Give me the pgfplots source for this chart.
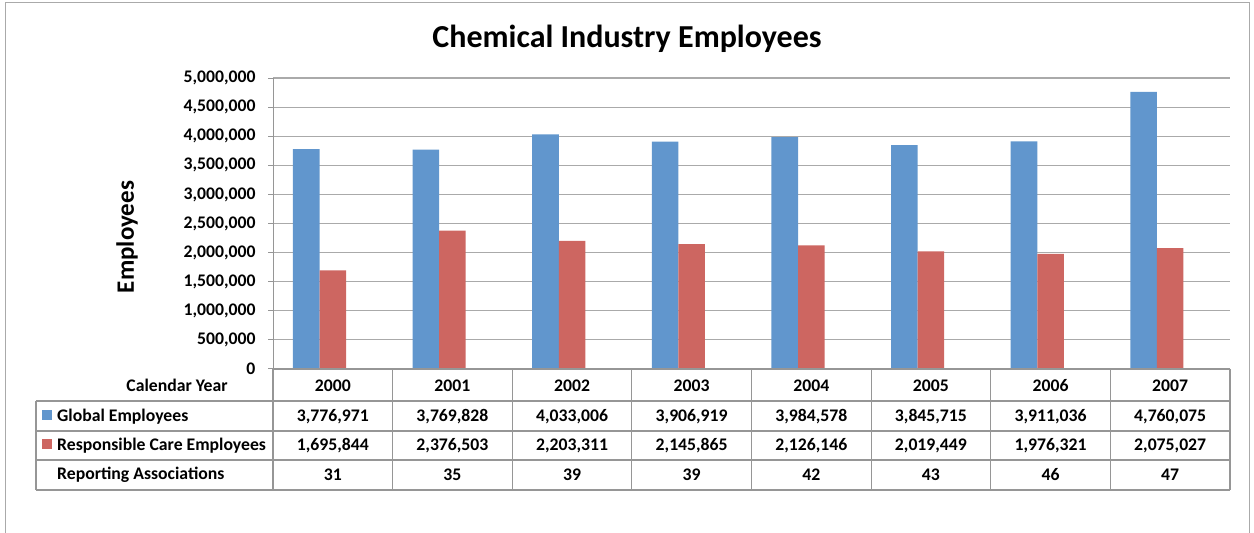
\documentclass[border=0pt]{standalone}
\usepackage{pgfplots}
\pgfplotsset{compat=1.18}
\usepackage{pgfplotstable}
\usepackage{fontspec}
\setmainfont{Carlito}
\definecolor{gblue}{RGB}{97,150,205}
\definecolor{rcred}{RGB}{205,102,97}
\definecolor{lgray}{RGB}{170,170,170}
\definecolor{tgray}{RGB}{150,150,150}
\pgfplotstableread{
x year global rc assoc
0 2000 3776971 1695844 31
1 2001 3769828 2376503 35
2 2002 4033006 2203311 39
3 2003 3906919 2145865 39
4 2004 3984578 2126146 42
5 2005 3845715 2019449 43
6 2006 3911036 1976321 46
7 2007 4760075 2075027 47
}\datatable
\newcommand{\tf}{\bfseries\fontsize{17.7}{17.7}\selectfont}
\begin{document}
\begin{tikzpicture}[x=1pt,y=1pt]
\useasboundingbox (0,0) rectangle (1254,533);
\draw[lgray, line width=1pt] (5,0) -- (5,530) -- (1249,530) -- (1249,0);
\node[font=\bfseries\fontsize{32}{32}\selectfont] at (627,494) {Chemical Industry Employees};
\node[font=\bfseries\fontsize{25}{25}\selectfont, rotate=90] at (127,296) {Employees};
\begin{axis}[
  at={(273pt,164pt)}, anchor=south west,
  scale only axis, width=957pt, height=291pt,
  xmin=-0.5, xmax=7.5, ymin=0, ymax=5000000,
  bar width=0.222,
  axis y line*=left, axis x line=none,
  axis line style={tgray, line width=1pt},
  xtick=\empty,
  ytick={0,500000,1000000,1500000,2000000,2500000,3000000,3500000,4000000,4500000,5000000},
  scaled y ticks=false,
  tick align=outside, major tick length=5pt,
  ytick style={tgray, line width=1pt},
  ymajorgrids, grid style={lgray, line width=1.2pt},
  yticklabel style={font=\tf, xshift=-9pt, /pgf/number format/fixed, /pgf/number format/1000 sep={,}, /pgf/number format/assume math mode=true},
  clip=false,
]
\addplot[ybar, bar shift=-0.222, fill=gblue, draw=none] table[x=x, y=global] {\datatable};
\addplot[ybar, bar shift=0, fill=rcred, draw=none] table[x=x, y=rc] {\datatable};
\end{axis}
% data table
\begin{scope}[tgray, line width=1.2pt]
\draw (273,164) -- (1230,164);
\foreach \k in {132,102,73,43} \draw (36,\k) -- (1230,\k);
\draw (36,132) -- (36,43);
\foreach \k in {0,...,8} \draw ({273+119.625*\k},164) -- ({273+119.625*\k},43);
\end{scope}
\node[font=\tf] at (177,148) {Calendar Year};
\fill[gblue] (42,113) rectangle (52,123);
\fill[rcred] (42,84) rectangle (52,94);
\node[font=\tf, anchor=west, inner sep=0pt] at (57,116) {Global Employees};
\node[font=\tf, anchor=west, inner sep=0pt] at (57,87) {Responsible Care Employees};
\node[font=\tf, anchor=west, inner sep=0pt] at (57,58) {Reporting Associations};
\foreach \i/\yr/\g/\r/\a in {0/2000/{3,776,971}/{1,695,844}/31,1/2001/{3,769,828}/{2,376,503}/35,2/2002/{4,033,006}/{2,203,311}/39,3/2003/{3,906,919}/{2,145,865}/39,4/2004/{3,984,578}/{2,126,146}/42,5/2005/{3,845,715}/{2,019,449}/43,6/2006/{3,911,036}/{1,976,321}/46,7/2007/{4,760,075}/{2,075,027}/47}{
  \node[font=\tf] at ({332.8+119.625*\i},147) {\yr};
  \node[font=\tf] at ({332.8+119.625*\i},116) {\g};
  \node[font=\tf] at ({332.8+119.625*\i},87) {\r};
  \node[font=\tf] at ({332.8+119.625*\i},58) {\a};
}
\end{tikzpicture}
\end{document}
